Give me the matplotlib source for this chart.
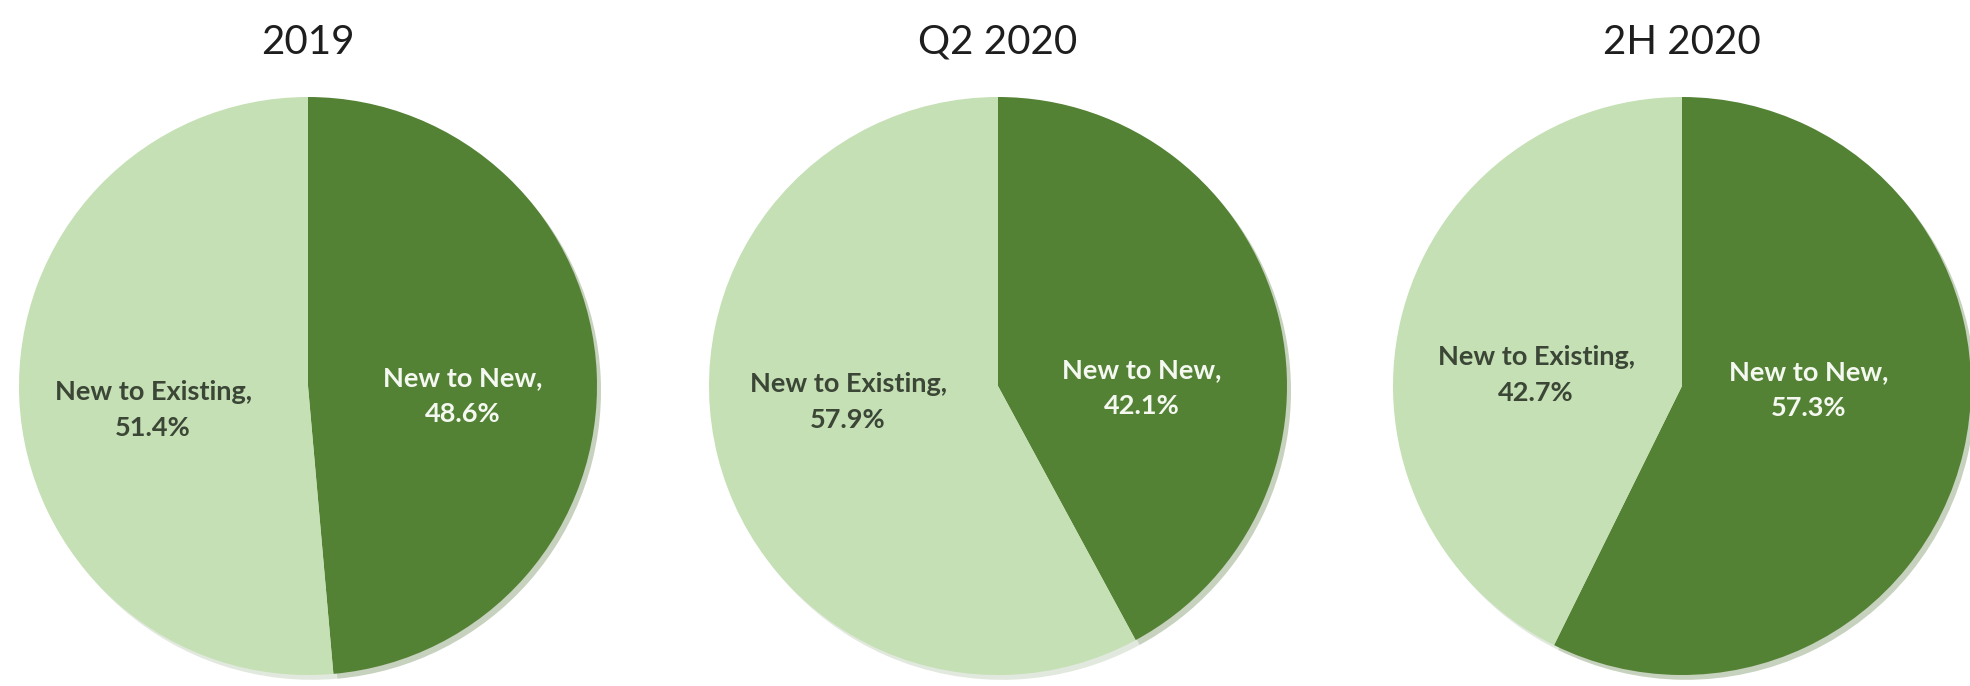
import matplotlib
matplotlib.use("Agg")
import matplotlib.pyplot as plt

# -----------------------------
# Data
# -----------------------------
periods = ["2019", "Q2 2020", "2H 2020"]
segments = ["New to New", "New to Existing"]
new_to_new = [48.6, 42.1, 57.3]
new_to_existing = [51.4, 57.9, 42.7]

# label anchor offsets (in pie radius units), as Excel placed them
ntn_label_pos = [(0.536, -0.035), (0.498, -0.007), (0.439, -0.014)]
nte_label_pos = [(-0.536, -0.083), (-0.519, -0.055), (-0.505, 0.038)]

# -----------------------------
# Style
# -----------------------------
dark_green = "#548235"
light_green = "#C5E0B4"
font = ["Lato", "DejaVu Sans"]

W, H = 1970, 686
fig = plt.figure(figsize=(W / 100, H / 100), dpi=100)

radius_px = 289
centers_px = [(308, 386), (998, 386), (1682, 386)]

for i, period in enumerate(periods):
    cx, cy = centers_px[i]
    ax = fig.add_axes([(cx - radius_px) / W, (H - cy - radius_px) / H,
                       2 * radius_px / W, 2 * radius_px / H])
    values = [new_to_new[i], new_to_existing[i]]
    ax.pie(values, colors=[dark_green, light_green], startangle=90,
           counterclock=False, radius=1.0,
           wedgeprops={"linewidth": 0},
           shadow={"ox": 0.01, "oy": -0.012, "shade": 0.2, "alpha": 0.3})
    ax.set_xlim(-1, 1)
    ax.set_ylim(-1, 1)
    ax.set_aspect("equal")
    ax.axis("off")

    x, y = ntn_label_pos[i]
    ax.text(x, y, f"{segments[0]},\n{new_to_new[i]:.1f}%", ha="center",
            va="center", color="#F4F8F0", fontsize=19.5, fontweight="bold",
            family=font, linespacing=1.6)
    x, y = nte_label_pos[i]
    ax.text(x, y, f"{segments[1]},\n{new_to_existing[i]:.1f}%", ha="center",
            va="center", color="#3B4636", fontsize=19.5, fontweight="bold",
            family=font, linespacing=1.6)

    # title centred 42 px from the top of the figure
    ax.text(0.5, 1 + (cy - radius_px - 42) / (2 * radius_px), period,
            transform=ax.transAxes, ha="center", va="center", fontsize=29,
            color="#1E1E1E", family=font, clip_on=False)

fig.savefig("out.png", dpi=100, facecolor="white")
